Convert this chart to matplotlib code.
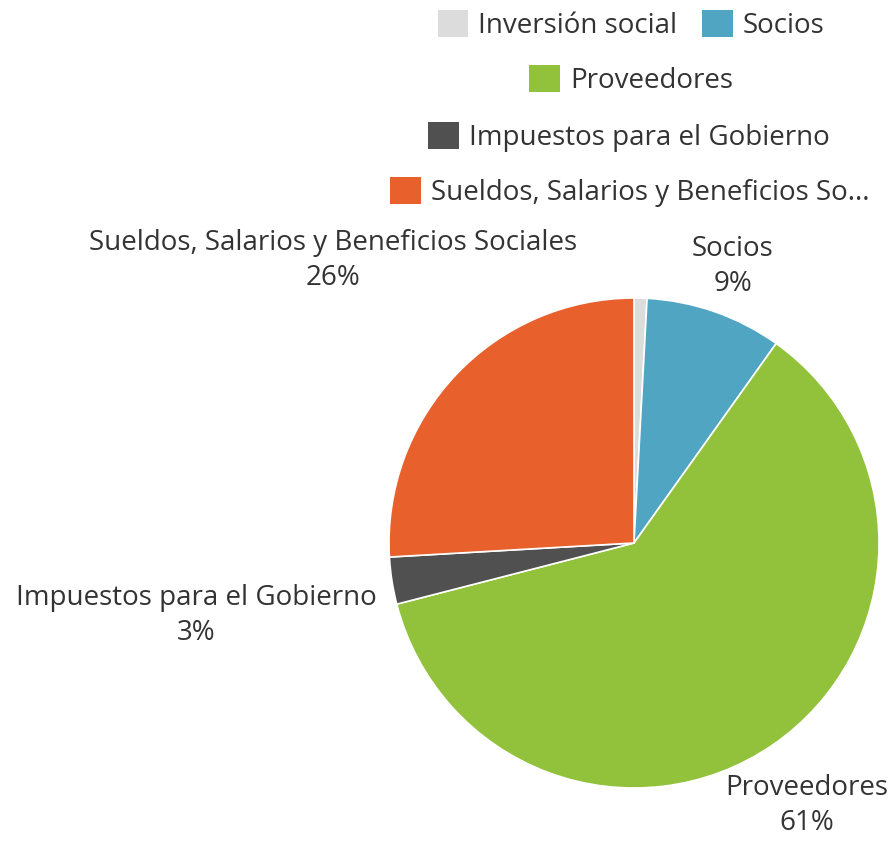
import matplotlib
matplotlib.use("Agg")
import matplotlib.pyplot as plt

categories = ["Inversión social", "Socios", "Proveedores", "Impuestos para el Gobierno",
              "Sueldos, Salarios y Beneficios Sociales"]
values = [0.85, 9.0, 61.1, 3.1, 25.9]
pct_labels = ["", "9%", "61%", "3%", "26%"]
legend_labels = ["Inversión social", "Socios", "Proveedores", "Impuestos para el Gobierno",
                 "Sueldos, Salarios y Beneficios So..."]
colors = ["#DCDCDC", "#4FA5C2", "#92C13B", "#505050", "#E8602C"]

plt.rcParams['font.family'] = ['Open Sans', 'DejaVu Sans']
W, H = 896, 841
fig = plt.figure(figsize=(W / 100, H / 100), dpi=100)

cx, cy, r = 634, 543, 245
ax = fig.add_axes([(cx - r) / W, (H - cy - r) / H, 2 * r / W, 2 * r / H])
wedges, _ = ax.pie(values, colors=colors, startangle=90, counterclock=False, radius=1,
                   wedgeprops=dict(edgecolor="white", linewidth=1.2))
ax.set_xlim(-1, 1)
ax.set_ylim(-1, 1)
ax.set_aspect("equal")
ax.axis("off")

fs = 20
tc = "#333333"
# outside labels (data coords, unit = radius)
label_pos = {1: (0.404, 1.130), 2: (0.705, -1.072), 3: (-1.788, -0.295), 4: (-1.229, 1.152)}
for i, (x, y) in label_pos.items():
    ax.text(x, y, categories[i] + "\n" + pct_labels[i], ha="center", va="center",
            fontsize=fs, color=tc, linespacing=1.33, clip_on=False)

# legend rows
rows = [[0, 1], [2], [3], [4]]
row_y = [25, 80, 137, 192]
row_x = [631, 631, 629, 630]
for idx, ry, rx in zip(rows, row_y, row_x):
    leg = fig.legend([wedges[i] for i in idx], [legend_labels[i] for i in idx],
                     loc="center", bbox_to_anchor=(rx / W, 1 - ry / H), ncol=len(idx),
                     frameon=False, fontsize=fs, handlelength=1.1, handleheight=1.1,
                     handletextpad=0.36, columnspacing=0.9, borderpad=0, labelcolor=tc)
    for h in leg.legend_handles:
        h.set_edgecolor("none")

fig.savefig("out.png", dpi=100)
